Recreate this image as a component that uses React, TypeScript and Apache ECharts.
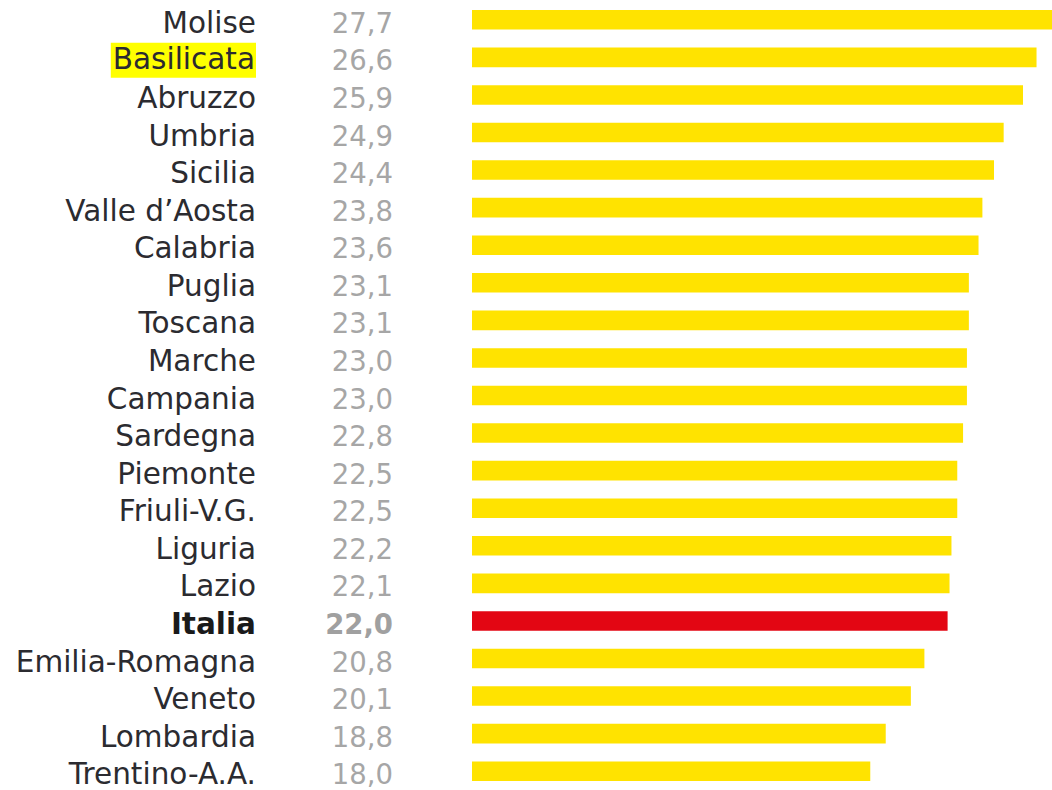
import React, { useEffect, useRef } from "react";
import * as echarts from "echarts";

const REGIONS = [
  "Molise", "Basilicata", "Abruzzo", "Umbria", "Sicilia", "Valle d’Aosta", "Calabria",
  "Puglia", "Toscana", "Marche", "Campania", "Sardegna", "Piemonte", "Friuli-V.G.",
  "Liguria", "Lazio", "Italia", "Emilia-Romagna", "Veneto", "Lombardia", "Trentino-A.A.",
];
const VALUES = [
  27.7, 26.6, 25.9, 24.9, 24.4, 23.8, 23.6, 23.1, 23.1, 23.0, 23.0, 22.8, 22.5, 22.5,
  22.2, 22.1, 22.0, 20.8, 20.1, 18.8, 18.0,
];
const TOTAL = "Italia";
const HIGHLIGHT = "Basilicata";
const AXIS_MIN = -2.6;
const AXIS_MAX = 27.4;

const YELLOW = "#ffe300";
const RED = "#e30613";
const FONT = "'DejaVu Sans', sans-serif";
const FS = 29.5;
const FSV = 27.5;
const LH = 28;

const fmt = (v: number) => v.toFixed(1).replace(".", ",");

export default function App() {
  const ref = useRef<HTMLDivElement>(null);
  useEffect(() => {
    if (!ref.current) return;
    const chart = echarts.init(ref.current, undefined, { renderer: "svg" });
    chart.setOption({
      animation: false,
      backgroundColor: "#ffffff",
      grid: { left: 472, width: 580, top: 1, height: 791 },
      xAxis: { type: "value", min: AXIS_MIN, max: AXIS_MAX, show: false },
      yAxis: [
        {
          type: "category",
          data: REGIONS,
          inverse: true,
          axisLine: { show: false },
          axisTick: { show: false },
          splitLine: { show: false },
          axisLabel: {
            interval: 0,
            margin: 216,
            fontFamily: FONT,
            fontSize: FS,
            lineHeight: LH,
            padding: [6, 0, 0, 0],
            color: "#2b2b30",
            formatter: (v: string) =>
              v === TOTAL ? `{b|${v}}` : v === HIGHLIGHT ? `{h|${v}}` : `{n|${v}}`,
            rich: {
              n: { fontFamily: FONT, fontSize: FS, lineHeight: LH, color: "#2b2b30" },
              b: {
                fontFamily: FONT,
                fontSize: FS,
                lineHeight: LH,
                fontWeight: "bold",
                color: "#1a1a1a",
              },
              h: {
                fontFamily: FONT,
                fontSize: FS,
                lineHeight: 28,
                color: "#2b2b30",
                backgroundColor: "#ffff00",
                padding: [1, 1, 4, 2],
              },
            },
          },
        },
        {
          type: "category",
          data: REGIONS,
          inverse: true,
          position: "left",
          axisLine: { show: false },
          axisTick: { show: false },
          splitLine: { show: false },
          axisLabel: {
            interval: 0,
            margin: 79,
            fontFamily: FONT,
            fontSize: FSV,
            lineHeight: LH,
            padding: [6, 0, 0, 0],
            color: "#a6a6a6",
            formatter: (v: string, i: number) =>
              v === TOTAL ? `{b|${fmt(VALUES[i])}}` : `{n|${fmt(VALUES[i])}}`,
            rich: {
              n: { fontFamily: FONT, fontSize: FSV, lineHeight: LH, color: "#a6a6a6" },
              b: {
                fontFamily: FONT,
                fontSize: FSV,
                lineHeight: LH,
                fontWeight: "bold",
                color: "#a0a0a0",
              },
            },
          },
        },
      ],
      series: [
        {
          type: "custom",
          clip: false,
          encode: { x: 0, y: 1 },
          data: VALUES.map((v, i) => [v, i]),
          renderItem: (params: any, api: any) => {
            const idx = api.value(1);
            const start = api.coord([AXIS_MIN, idx]);
            const end = api.coord([api.value(0), idx]);
            const h = api.size([0, 1])[1] * 0.52;
            return {
              type: "rect",
              shape: { x: start[0], y: start[1] - h / 2, width: end[0] - start[0], height: h },
              style: { fill: REGIONS[idx] === TOTAL ? RED : YELLOW },
            };
          },
        },
      ],
    });
    return () => chart.dispose();
  }, []);
  return (
    <div
      ref={ref}
      style={{ position: "absolute", left: 0, top: 0, width: 1052, height: 790 }}
    />
  );
}
